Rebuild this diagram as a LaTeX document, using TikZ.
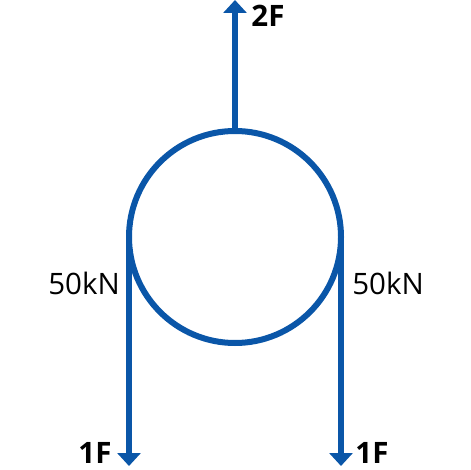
\documentclass[tikz,border=0pt]{standalone}
\usepackage{fontspec}
\setmainfont{Open Sans}
\usetikzlibrary{arrows.meta}
\definecolor{ropeblue}{RGB}{10,86,168}

\begin{document}
\begin{tikzpicture}[x=1pt,y=-1pt]
  \tikzset{rope/.style = {draw=ropeblue, line width=6pt}}
  \tikzset{force/.style = {rope, -{Triangle[length=13pt,width=23pt]}}}
  \tikzset{load/.style = {font=\fontsize{29.5}{34}\selectfont, inner sep=0pt}}
  \tikzset{bigload/.style = {load, font=\fontsize{29.5}{34}\selectfont\bfseries}}

  \useasboundingbox (0,0) rectangle (470,470);

	\node[circle, rope, minimum size=212pt, inner sep=0pt, outer sep=0pt] (pulley) at (235,237) {};

	\coordinate (tipT) at (235,0);
	\coordinate (tipL) at (129,466);
	\coordinate (tipR) at (341,466);

	\node[bigload] (twoF) at (268,16) {2F};
	\node[load] (kNL) at (84,283) {50kN};
	\node[load] (kNR) at (388,283) {50kN};
	\node[bigload] (oneFL) at (95,453) {1F};
	\node[bigload] (oneFR) at (372,453) {1F};

    \foreach \from/\to in {pulley.north/tipT, pulley.west/tipL, pulley.east/tipR}
    \path[force](\from) -- (\to);

\end{tikzpicture}
\end{document}
